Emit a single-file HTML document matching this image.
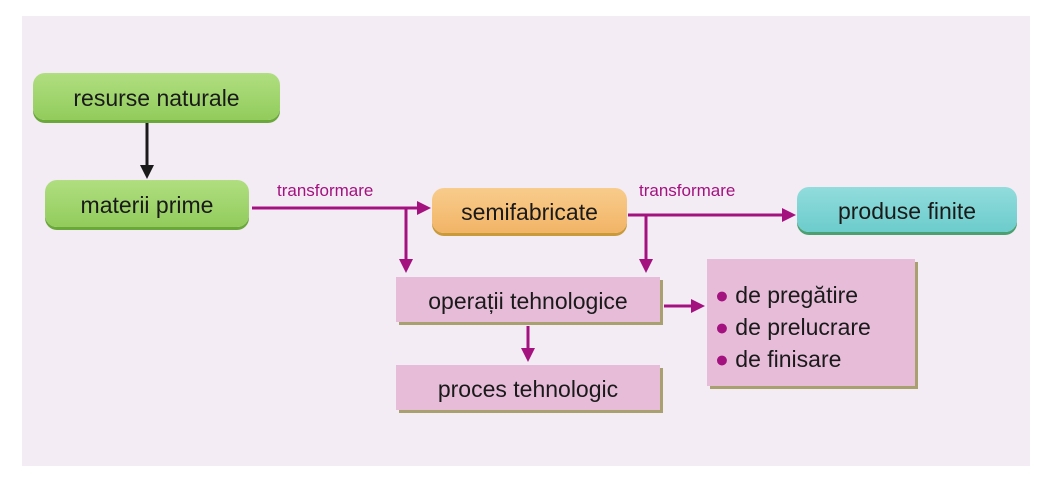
<!DOCTYPE html>
<html><head><meta charset="utf-8"><style>
body{margin:0;width:1053px;height:480px;background:#fff;position:relative;overflow:hidden;font-family:"Liberation Sans",sans-serif}
.panel{position:absolute;left:22px;top:16px;width:1008px;height:450px;background:#f4ecf5}
.b{position:absolute;display:flex;align-items:center;justify-content:center;font-size:23px;color:#1a1a1a;box-sizing:border-box;padding-top:4px}
.g{background:linear-gradient(#b0de80,#92cc5c);border-radius:12px;box-shadow:0 3px 0 #6aa83a}
.o{background:linear-gradient(#f8cc8c,#f2b466);border-radius:12px;box-shadow:0 3px 0 #c99a3a}
.t{background:linear-gradient(#92dcdc,#6ccccc);border-radius:12px;box-shadow:0 3px 0 #4aa070}
.p{background:#e6bcd9;box-shadow:3px 3px 0 #a9a070}
.lbl{position:absolute;font-size:17px;color:#a3127e}
</style></head><body>
<div class="panel"></div>
<div class="b g" style="left:33px;top:73px;width:247px;height:47px">resurse naturale</div>
<div class="b g" style="left:45px;top:180px;width:204px;height:47px">materii prime</div>
<div class="b o" style="left:432px;top:188px;width:195px;height:45px">semifabricate</div>
<div class="b t" style="left:797px;top:187px;width:220px;height:45px">produse finite</div>
<div class="b p" style="left:396px;top:277px;width:264px;height:45px">operații tehnologice</div>
<div class="b p" style="left:396px;top:365px;width:264px;height:45px">proces tehnologic</div>
<div class="b p" style="left:707px;top:259px;width:208px;height:127px;justify-content:flex-start;align-items:flex-start;padding:20px 0 0 8px;line-height:32px;flex-direction:column">
<div><span style="color:#a3127e">●</span> de pregătire</div><div><span style="color:#a3127e">●</span> de prelucrare</div><div><span style="color:#a3127e">●</span> de finisare</div></div>
<div class="lbl" style="left:277px;top:181px">transformare</div>
<div class="lbl" style="left:639px;top:181px">transformare</div>
<svg width="1053" height="480" style="position:absolute;left:0;top:0">
<g stroke="#a3127e" stroke-width="3" fill="none">
<path d="M252 208H418M406 208V260M628 215H782M646 215V260M664 306H692M528 326V350"/>
</g>
<g fill="#a3127e">
<path d="M431 208l-14-7v14z"/><path d="M406 273l-7-14h14z"/>
<path d="M796 215l-14-7v14z"/><path d="M646 273l-7-14h14z"/>
<path d="M705 306l-14-7v14z"/><path d="M528 362l-7-14h14z"/>
</g>
<path d="M147 123V166" stroke="#1a1a1a" stroke-width="3"/>
<path d="M147 179l-7-14h14z" fill="#1a1a1a"/>
</svg>
</body></html>
